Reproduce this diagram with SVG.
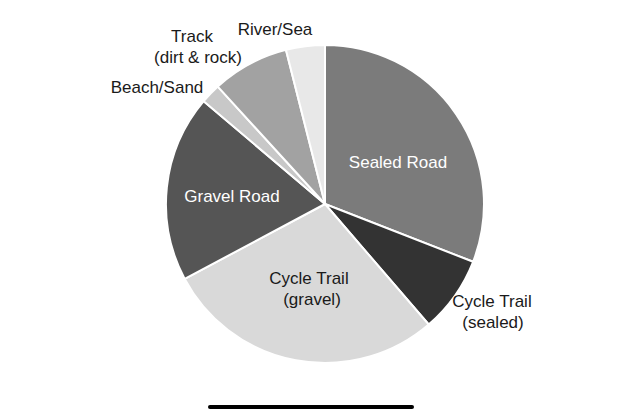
<svg xmlns="http://www.w3.org/2000/svg" width="639" height="411" viewBox="0 0 639 411">
<style>
.s{stroke:#fff;stroke-width:2;stroke-linejoin:round}
text{font-family:"Liberation Sans",Arial,sans-serif;font-size:17px;text-anchor:middle;fill:#1a1a1a}
.w{fill:#fff}
</style>
<rect width="639" height="411" fill="#fff"/>
<g id="connectors"></g>
<g id="sealed-road">
<path class="s" fill="#7b7b7b" d="M325,204 L325,45 A159,159 0 0 1 473.1,261.8 Z"/>
<text class="w" x="398" y="168">Sealed Road</text>
</g>
<g id="cycle-trail-sealed">
<path class="s" fill="#333333" d="M325,204 L473.1,261.8 A159,159 0 0 1 428.7,324.5 Z"/>
<text x="492" y="307">Cycle Trail</text>
<text x="493" y="328">(sealed)</text>
</g>
<g id="cycle-trail-gravel">
<path class="s" fill="#d9d9d9" d="M325,204 L428.7,324.5 A159,159 0 0 1 184.7,278.9 Z"/>
<text x="309" y="284">Cycle Trail</text>
<text x="312" y="305">(gravel)</text>
</g>
<g id="gravel-road">
<path class="s" fill="#555555" d="M325,204 L184.7,278.9 A159,159 0 0 1 203.7,101.2 Z"/>
<text class="w" x="232" y="202">Gravel Road</text>
</g>
<g id="beach-sand">
<path class="s" fill="#c8c8c8" d="M325,204 L203.7,101.2 A159,159 0 0 1 217.8,86.6 Z"/>
<text x="157" y="93">Beach/Sand</text>
</g>
<g id="track">
<path class="s" fill="#a2a2a2" d="M325,204 L217.8,86.6 A159,159 0 0 1 286,49.9 Z"/>
<text x="192" y="42">Track</text>
<text x="198" y="63">(dirt &amp; rock)</text>
</g>
<g id="river-sea">
<path class="s" fill="#e8e8e8" d="M325,204 L286,49.9 A159,159 0 0 1 325,45 Z"/>
<text x="275" y="35">River/Sea</text>
</g>
<line x1="210" y1="407" x2="412" y2="407" stroke="#000" stroke-width="4" stroke-linecap="round"/>
</svg>
